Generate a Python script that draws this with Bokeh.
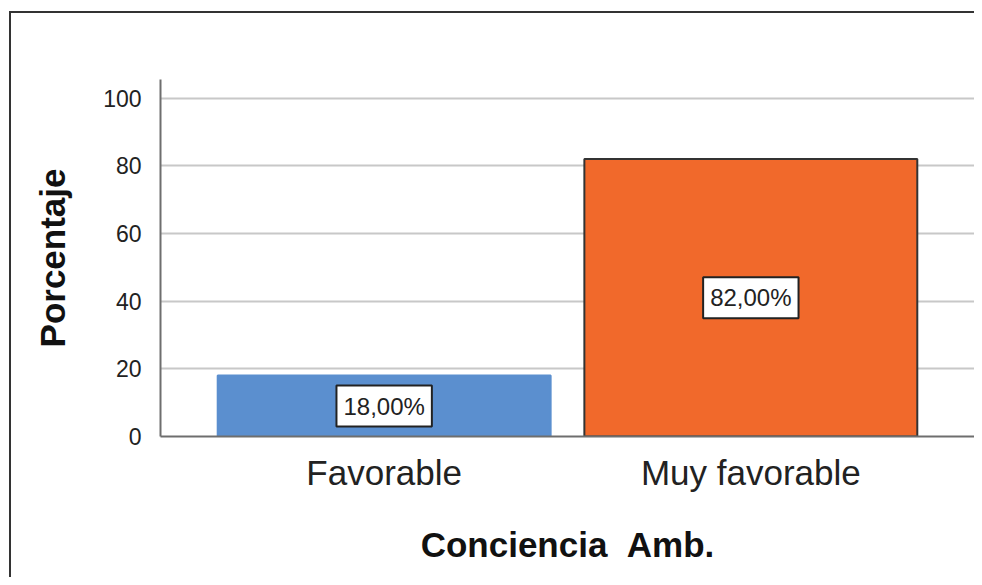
from bokeh.plotting import figure
from bokeh.models import ColumnDataSource, FactorRange, Range1d, FixedTicker
from bokeh.core.properties import value
from bokeh.embed import file_html
from bokeh.resources import INLINE

categories = ["Favorable", "Muy favorable"]
percentages = [18.0, 82.0]
value_labels = ["18,00%", "82,00%"]
bar_colors = ["#5b8fcf", "#f1692b"]
bar_lines = ["#5b8fcf", "#333333"]
y_ticks = [0, 20, 40, 60, 80, 100]

source = ColumnDataSource(dict(
    cat=categories,
    pct=percentages,
    mid=[v / 2 for v in percentages],
    lab=value_labels,
    fill=bar_colors,
    line=bar_lines,
))

FONT = "Liberation Sans"
W, H = 974, 577

frame_bg = ("linear-gradient(#333333, #333333) 9px 11px / 2px 100% no-repeat, "
            "linear-gradient(#333333, #333333) 9px 11px / 100% 2px no-repeat, white")

p = figure(
    x_range=FactorRange(*categories, range_padding=0.11, range_padding_units="absolute"),
    y_range=Range1d(0, 105.5),
    width=W, height=H,
    output_backend="svg", toolbar_location=None,
    min_border_left=160, min_border_top=79, min_border_right=0, min_border_bottom=141,
    styles={"background": frame_bg},
)
p.border_fill_alpha = 0
p.background_fill_color = "white"

p.vbar(x="cat", top="pct", width=0.908, bottom=0, source=source,
       fill_color="fill", line_color="line", line_width=2)

p.text(x="cat", y="mid", text="lab", source=source,
       text_align="center", text_baseline="middle",
       text_font=value(FONT), text_font_size="24px", text_color="#222222",
       background_fill_color="white", border_line_color="#222222",
       border_line_width=2, padding=7)

p.outline_line_color = None
p.xgrid.grid_line_color = None
p.ygrid.grid_line_color = "#c8c8c8"
p.ygrid.grid_line_width = 2
p.yaxis.ticker = FixedTicker(ticks=y_ticks)

for ax in (p.xaxis[0], p.yaxis[0]):
    ax.major_tick_line_color = None
    ax.minor_tick_line_color = None
    ax.axis_line_color = "#6e6e6e"
    ax.axis_line_width = 2
    ax.major_label_text_font = FONT
    ax.major_label_text_color = "#222222"
    ax.axis_label_text_font = FONT
    ax.axis_label_text_font_style = "bold"
    ax.axis_label_text_color = "#111111"

p.yaxis.major_label_text_font_size = "23px"
p.yaxis.major_label_standoff = 13
p.yaxis.axis_label = "Porcentaje"
p.yaxis.axis_label_text_font_size = "35px"
p.yaxis.axis_label_standoff = 28

p.xaxis.major_label_text_font_size = "35px"
p.xaxis.major_label_standoff = 10
p.xaxis.axis_label = "Conciencia\u00a0\u00a0Amb."
p.xaxis.axis_label_text_font_size = "35px"
p.xaxis.axis_label_standoff = 30

open("out.html", "w").write(file_html(p, INLINE))
